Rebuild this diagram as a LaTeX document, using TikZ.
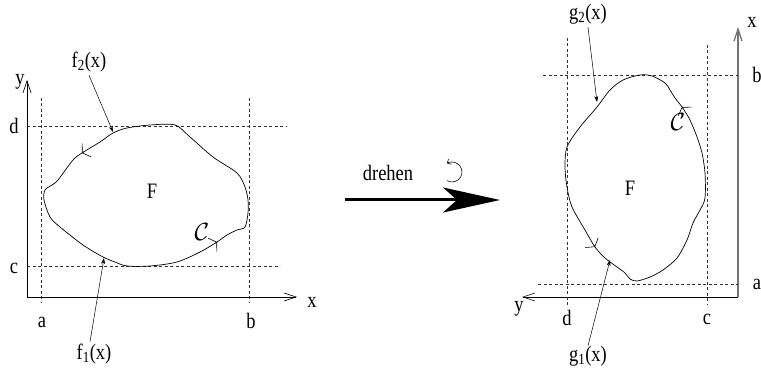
\documentclass[tikz,border=0pt]{standalone}
\usepackage{fontspec}
\setmainfont[FakeStretch=0.84]{Liberation Serif}
\usepackage{tikz}
\usetikzlibrary{arrows.meta}

\begin{document}
\begin{tikzpicture}[x=1pt, y=-1pt, font=\fontsize{22}{24}\selectfont,
  guide/.style={dash pattern=on 3pt off 2.5pt, line width=0.5pt, draw=black!80},
  axis/.style={-{Straight Barb[length=12pt,width=8pt]}, line width=0.6pt},
  pointer/.style={-{Stealth[length=6pt,width=4pt]}, line width=0.5pt},
  border/.style={line width=0.7pt},
  tick/.style={-{Straight Barb[length=5pt,width=16pt]}, line width=0.6pt},
  lbl/.style={inner sep=0pt},
  curvelbl/.style={inner sep=0pt, font=\fontsize{28}{30}\selectfont}]
\useasboundingbox (0,0) rectangle (761,377);

\coordinate (oL) at (27,297);
\coordinate (yLend) at (27,80);
\coordinate (xLend) at (297,297);
\draw[axis] (oL) -- (yLend);
\draw[axis] (oL) -- (xLend);
\draw[guide] (41,98) -- (41,302);
\draw[guide] (249,98) -- (249,302);
\draw[guide] (27,126) -- (287,126);
\draw[guide] (27,266) -- (280,266);
\draw[border] plot[smooth cycle, tension=0.5] coordinates {(113,133) (100,142) (82,153) (73,160) (58,180) (52,185) (45,190) (44,200) (50,217) (60,227) (83,245) (103,257) (115,262) (127,266) (150,266) (177,262) (200,252) (217,242) (227,235) (237,230) (245,227) (248,213) (248,200) (245,187) (237,173) (213,157) (190,137) (175,125) (150,125) (127,128)};
\draw[tick] (83.7,151.9) -- (82,153);
\draw[tick] (215.3,243.1) -- (217,242);
\node[lbl] (yL) at (20,82) {y};
\node[lbl] (xL) at (312,302) {x};
\node[lbl] (dL) at (14,126) {d};
\node[lbl] (cL) at (14,268) {c};
\node[lbl] (aL) at (42,322) {a};
\node[lbl] (bL) at (251,321) {b};
\node[lbl] (FL) at (152,191) {F};
\node[curvelbl] (CL) at (202,232) {$\mathcal{C}$};
\node[lbl] (f2) at (89,62) {f\textsubscript{2}(x)};
\node[lbl] (f1) at (94,354) {f\textsubscript{1}(x)};
\coordinate (f2pt) at (113,132);
\coordinate (f1pt) at (104,258);
\draw[pointer] ([yshift=-3pt]f2.south) -- (f2pt);
\draw[pointer] ([xshift=-4pt,yshift=2pt]f1.north) -- (f1pt);

\coordinate (rotS) at (345,200);
\coordinate (rotE) at (500,200);
\draw[line width=3pt, -{Stealth[length=57pt,width=25pt,inset=14pt]}] (rotS) -- (rotE);
\node[lbl] (drehen) at (388,173) {drehen};
\draw[line width=0.6pt, -{Straight Barb[length=3pt,width=6pt]}] (452,172) ++(120:10) arc[start angle=120, end angle=-120, radius=10];

\coordinate (oR) at (738,297);
\coordinate (xRend) at (738,27);
\coordinate (yRend) at (522,297);
\draw[axis, draw=black!55, line width=1.3pt] (oR) -- (xRend);
\draw[axis] (oR) -- (yRend);
\draw[guide] (567,38) -- (567,305);
\draw[guide] (707,45) -- (707,305);
\draw[guide] (543,75) -- (738,75);
\draw[guide] (538,284) -- (738,284);
\draw[border] plot[smooth cycle, tension=0.5] coordinates {(567,147) (565,167) (567,187) (572,207) (585,230) (595,247) (605,258) (617,267) (625,273) (630,279) (637,281) (650,277) (663,270) (677,258) (687,240) (693,223) (700,210) (705,198) (705,173) (702,153) (697,137) (690,120) (682,107) (675,98) (670,90) (665,83) (652,76) (640,75) (623,80) (610,90) (597,107) (580,127)};
\draw[tick] (593.8,245.4) -- (595,247);
\draw[tick] (683.1,108.7) -- (682,107);
\node[lbl] (xR) at (752,22) {x};
\node[lbl] (bR) at (757,75) {b};
\node[lbl] (aR) at (757,284) {a};
\node[lbl] (yR) at (519,309) {y};
\node[lbl] (dR) at (567,318) {d};
\node[lbl] (cR) at (707,319) {c};
\node[lbl] (FR) at (630,188) {F};
\node[curvelbl] (CR) at (678,122) {$\mathcal{C}$};
\node[lbl] (g2) at (588,14) {g\textsubscript{2}(x)};
\node[lbl] (g1) at (588,356) {g\textsubscript{1}(x)};
\coordinate (g2pt) at (597,102);
\coordinate (g1pt) at (610,260);
\draw[pointer] ([yshift=-3pt]g2.south) -- (g2pt);
\draw[pointer] (g1.north) -- (g1pt);
\end{tikzpicture}
\end{document}
